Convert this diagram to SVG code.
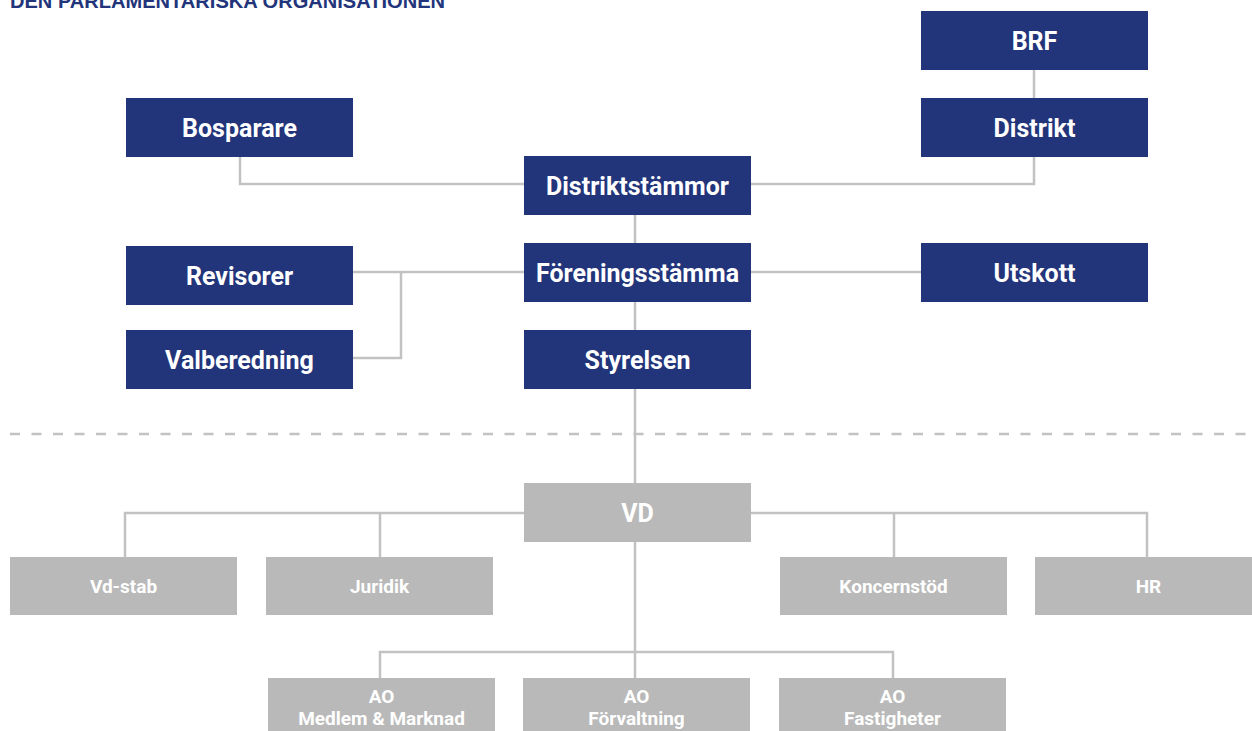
<svg xmlns="http://www.w3.org/2000/svg" width="1252" height="731" viewBox="0 0 1252 731">
<style>
.dk{fill:#22347a}
.gr{fill:#b9b9b9}
.t1{fill:#fff;font-family:Roboto,"Liberation Sans",sans-serif;font-weight:bold;font-size:25px;text-anchor:middle}
.t2{fill:#fff;font-family:Roboto,"Liberation Sans",sans-serif;font-weight:bold;font-size:19px;text-anchor:middle}
.ln{fill:none;stroke:#c2c2c2;stroke-width:2.5}
</style>
<rect width="1252" height="731" fill="#fff"/>
<text x="10" y="8" textLength="435" lengthAdjust="spacingAndGlyphs" style="fill:#22347a;font-family:'Liberation Sans',Arial,sans-serif;font-weight:bold;font-size:20px">DEN PARLAMENTARISKA ORGANISATIONEN</text>
<g id="connectors">
<line x1="10" y1="434" x2="1248" y2="434" style="stroke:#c2c2c2;stroke-width:2.5;stroke-dasharray:10 11.5"/>
<path class="ln" d="M1034 70V98M1034 157V184H751M240 157V184H524M635 215V243M635 302V330M635 389V483M353 272H524M751 272H921M353 358H401V272"/>
<path class="ln" d="M524 513H125V557M380 513V557M751 513H1147V557M894 513V557M635 542V678M380 678V652H893V678"/>
</g>
<g id="brf"><rect class="dk" x="921" y="11" width="227" height="59"/><text class="t1" x="1034.5" y="49.5">BRF</text></g>
<g id="distrikt"><rect class="dk" x="921" y="98" width="227" height="59"/><text class="t1" x="1034.5" y="136.5">Distrikt</text></g>
<g id="bosparare"><rect class="dk" x="126" y="98" width="227" height="59"/><text class="t1" x="239.5" y="136.5">Bosparare</text></g>
<g id="distriktstammor"><rect class="dk" x="524" y="156" width="227" height="59"/><text class="t1" x="637.5" y="194.5">Distriktstämmor</text></g>
<g id="foreningsstamma"><rect class="dk" x="524" y="243" width="227" height="59"/><text class="t1" x="637.5" y="281.5">Föreningsstämma</text></g>
<g id="utskott"><rect class="dk" x="921" y="243" width="227" height="59"/><text class="t1" x="1034.5" y="281.5">Utskott</text></g>
<g id="revisorer"><rect class="dk" x="126" y="246" width="227" height="59"/><text class="t1" x="239.5" y="284.5">Revisorer</text></g>
<g id="valberedning"><rect class="dk" x="126" y="330" width="227" height="59"/><text class="t1" x="239.5" y="368.5">Valberedning</text></g>
<g id="styrelsen"><rect class="dk" x="524" y="330" width="227" height="59"/><text class="t1" x="637.5" y="368.5">Styrelsen</text></g>
<g id="vd"><rect class="gr" x="524" y="483" width="227" height="59"/><text class="t1" x="637.5" y="521.5">VD</text></g>
<g id="vdstab"><rect class="gr" x="10" y="557" width="227" height="58"/><text class="t2" x="123.5" y="592.5">Vd-stab</text></g>
<g id="juridik"><rect class="gr" x="266" y="557" width="227" height="58"/><text class="t2" x="379.5" y="592.5">Juridik</text></g>
<g id="koncernstod"><rect class="gr" x="780" y="557" width="227" height="58"/><text class="t2" x="893.5" y="592.5">Koncernstöd</text></g>
<g id="hr"><rect class="gr" x="1035" y="557" width="227" height="58"/><text class="t2" x="1148.5" y="592.5">HR</text></g>
<g id="ao-medlem"><rect class="gr" x="268" y="678" width="227" height="60"/><text class="t2" x="381.5" y="703">AO</text><text class="t2" x="381.5" y="725">Medlem &amp; Marknad</text></g>
<g id="ao-forvaltning"><rect class="gr" x="523" y="678" width="227" height="60"/><text class="t2" x="636.5" y="703">AO</text><text class="t2" x="636.5" y="725">Förvaltning</text></g>
<g id="ao-fastigheter"><rect class="gr" x="779" y="678" width="227" height="60"/><text class="t2" x="892.5" y="703">AO</text><text class="t2" x="892.5" y="725">Fastigheter</text></g>
</svg>
